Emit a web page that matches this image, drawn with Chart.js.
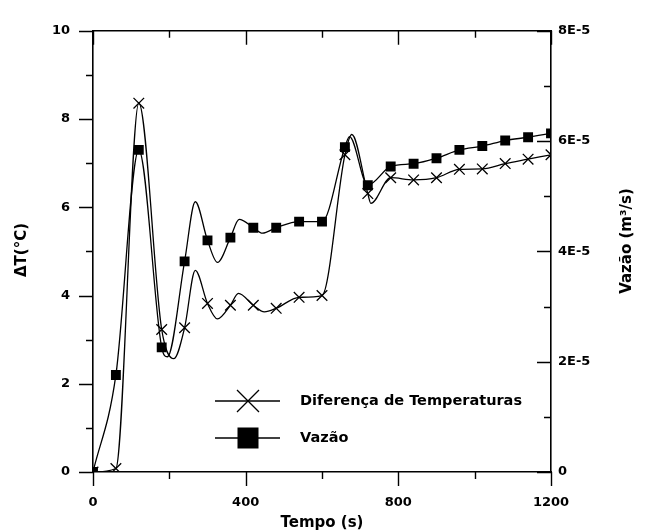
<!DOCTYPE html>
<html><head><meta charset="utf-8">
<script src="https://cdn.jsdelivr.net/npm/chart.js@4/dist/chart.umd.min.js"></script>
<style>html,body{margin:0;padding:0;background:#fff;}#wrap{width:647px;height:532px;position:relative}canvas{display:block}</style>
</head><body><div id="wrap"><canvas id="c" width="647" height="532"></canvas></div>
<script>
// ---- data ----
const tempo = [0,60,120,180,240,300,360,420,480,540,600,660,720,780,840,900,960,1020,1080,1140,1200];
const deltaT = [0,0.08,8.36,3.23,3.27,3.82,3.78,3.78,3.71,3.96,4.00,7.19,6.31,6.67,6.62,6.67,6.86,6.87,6.99,7.09,7.19];
const vazao = [0,1.76e-5,5.84e-5,2.26e-5,3.82e-5,4.20e-5,4.25e-5,4.43e-5,4.43e-5,4.54e-5,4.54e-5,5.89e-5,5.20e-5,5.54e-5,5.59e-5,5.69e-5,5.84e-5,5.91e-5,6.01e-5,6.07e-5,6.14e-5];
// turning points of the drawn curves
const deltaTCurveTempo = [212,268,326,381,449,678,728];
const deltaTCurveValues = [2.57,4.57,3.47,4.05,3.63,7.65,6.09];
const vazaoCurveTempo = [195,268,326,383,444,672];
const vazaoCurveValues = [2.09e-5,4.90e-5,3.80e-5,4.58e-5,4.33e-5,6.08e-5];
const seriesNames = ['Diferença de Temperaturas','Vazão'];
const xTitle = 'Tempo (s)';
const yTitle = 'ΔT(°C)';
const y2Title = 'Vazão (m³/s)';

function pts(ts, vs){ return ts.map((t,i)=>({x:t,y:vs[i]})); }
function merged(ts, vs, ets, evs){ return pts(ts,vs).concat(pts(ets,evs)).sort((a,b)=>a.x-b.x); }

const FONT = 'DejaVu Sans';
Chart.defaults.font.family = FONT;
Chart.defaults.color = '#000';

const framePlugin = {
  id: 'frame',
  afterDraw(chart){
    const {ctx, chartArea:a, scales:{x,y,y2}} = chart;
    ctx.save();
    ctx.strokeStyle = '#000';
    ctx.lineWidth = 1.6;
    ctx.beginPath(); ctx.moveTo(a.left-1, a.top); ctx.lineTo(a.right+1, a.top); ctx.stroke();
    ctx.lineWidth = 1.4;
    ctx.beginPath();
    for (let v=0; v<=1200; v+=200){
      const px = Math.round(x.getPixelForValue(v))+0.5;
      const L = (v%400===0)?14:7;
      ctx.moveTo(px, a.bottom); ctx.lineTo(px, a.bottom+L);
      ctx.moveTo(px, a.top); ctx.lineTo(px, a.top+L);
    }
    for (let v=0; v<=10; v+=1){
      const py = Math.round(y.getPixelForValue(v))+0.5;
      const L = (v%2===0)?14:7;
      ctx.moveTo(a.left, py); ctx.lineTo(a.left-L, py);
    }
    for (let k=0; k<=8; k+=1){
      const py = Math.round(y2.getPixelForValue(k*1e-5))+0.5;
      const L = (k%2===0)?14:7;
      ctx.moveTo(a.right, py); ctx.lineTo(a.right-L, py);
    }
    ctx.stroke();

    // axis titles
    ctx.fillStyle = '#000';
    ctx.font = 'bold 15px "' + FONT + '"';
    ctx.textAlign = 'center'; ctx.textBaseline = 'middle';
    ctx.fillText(xTitle, (a.left+a.right)/2, 523);
    ctx.save(); ctx.translate(22, 250); ctx.rotate(-Math.PI/2); ctx.fillText(yTitle, 0, 0); ctx.restore();
    ctx.save(); ctx.translate(627, 241); ctx.rotate(-Math.PI/2); ctx.fillText(y2Title, 0, 0); ctx.restore();

    // legend
    const lx0 = 215, lx1 = 280, mx = 248;
    const rows = [401, 438];
    ctx.lineWidth = 1.3;
    rows.forEach((ry)=>{ ctx.beginPath(); ctx.moveTo(lx0, ry); ctx.lineTo(lx1, ry); ctx.stroke(); });
    ctx.beginPath();
    ctx.moveTo(mx-11, rows[0]-11); ctx.lineTo(mx+11, rows[0]+11);
    ctx.moveTo(mx-11, rows[0]+11); ctx.lineTo(mx+11, rows[0]-11);
    ctx.stroke();
    ctx.fillRect(mx-10.5, rows[1]-10.5, 21, 21);
    ctx.font = 'bold 14.5px "' + FONT + '"';
    ctx.textAlign = 'left';
    ctx.fillText(seriesNames[0], 300, rows[0]);
    ctx.fillText(seriesNames[1], 300, rows[1]);
    ctx.restore();
  }
};

const tickFont = {size:13, weight:'bold'};
new Chart(document.getElementById('c'), {
  type: 'line',
  data: {
    datasets: [
      {label: seriesNames[0]+' markers', data: pts(tempo, deltaT), yAxisID:'y', showLine:false,
       pointStyle:'crossRot', pointRadius:7.5, borderColor:'#000', pointBorderWidth:1.3, backgroundColor:'#000'},
      {label: seriesNames[1]+' markers', data: pts(tempo, vazao), yAxisID:'y2', showLine:false,
       pointStyle:'rect', pointRadius:7, borderColor:'#000', pointBorderWidth:0, backgroundColor:'#000'},
      {label: seriesNames[0], data: merged(tempo, deltaT, deltaTCurveTempo, deltaTCurveValues), yAxisID:'y',
       borderColor:'#000', borderWidth:1.3, pointRadius:0, cubicInterpolationMode:'monotone', fill:false},
      {label: seriesNames[1], data: merged(tempo, vazao, vazaoCurveTempo, vazaoCurveValues), yAxisID:'y2',
       borderColor:'#000', borderWidth:1.3, pointRadius:0, cubicInterpolationMode:'monotone', fill:false}
    ]
  },
  options: {
    responsive:false, animation:false, devicePixelRatio:1,
    layout:{padding:{top:16, left:0, right:0, bottom:0}},
    plugins:{legend:{display:false}, tooltip:{enabled:false}},
    scales:{
      x:{type:'linear', min:0, max:1200, position:'bottom',
         ticks:{stepSize:400, font:tickFont, padding:23, maxRotation:0, callback:(v)=>String(v)},
         grid:{display:false, drawTicks:false}, border:{display:true, color:'#000', width:1.6},
         afterFit(s){ s.height = 60; }},
      y:{type:'linear', min:0, max:10, position:'left',
         ticks:{stepSize:2, font:tickFont, padding:23, callback:(v)=>String(v)},
         grid:{display:false, drawTicks:false}, border:{display:true, color:'#000', width:1.6},
         afterFit(s){ s.width = 93; }},
      y2:{type:'linear', min:0, max:8e-5, position:'right',
         ticks:{stepSize:2e-5, font:tickFont, padding:7,
                callback:(v)=> v===0 ? '0' : Math.round(v*1e5)+'E-5'},
         grid:{display:false, drawTicks:false}, border:{display:true, color:'#000', width:1.6},
         afterFit(s){ s.width = 96; }}
    }
  },
  plugins:[framePlugin]
});
</script>
</body></html>
